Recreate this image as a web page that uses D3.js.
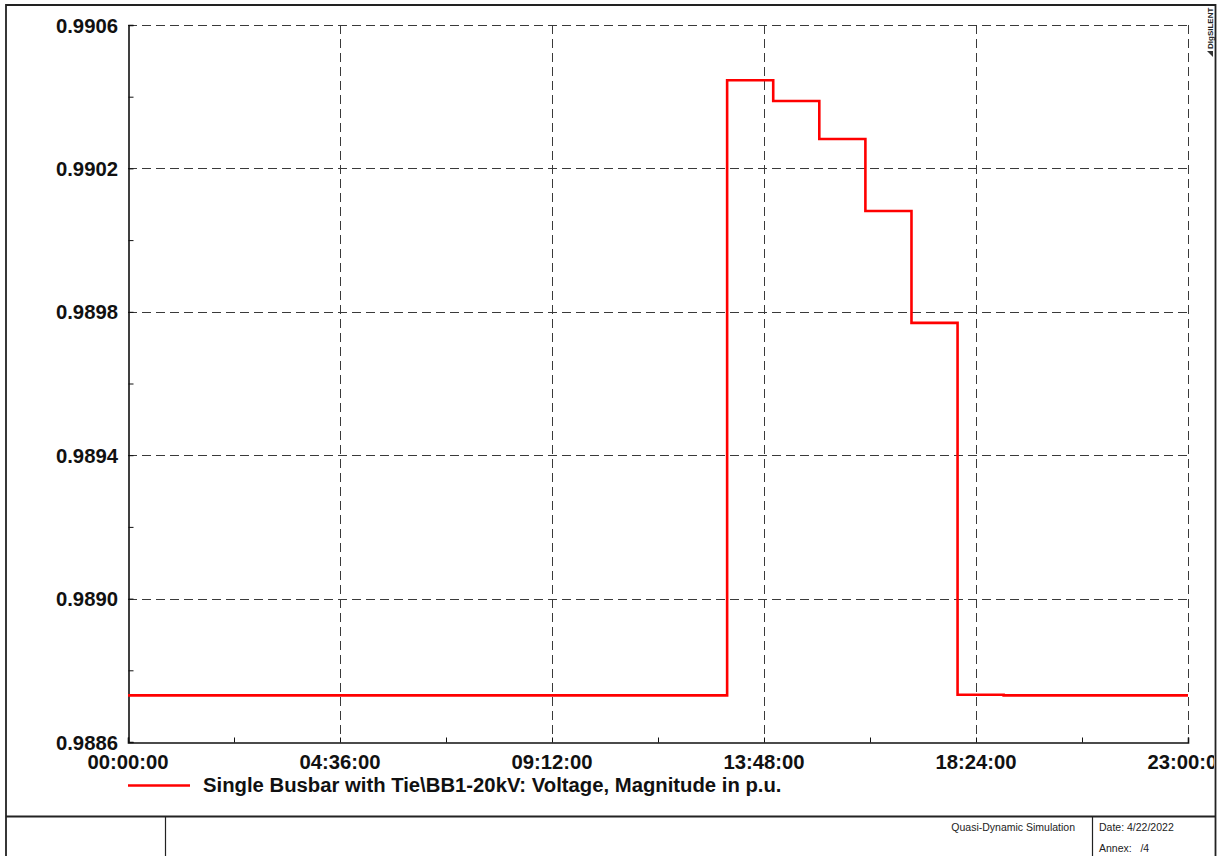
<!DOCTYPE html>
<html>
<head>
<meta charset="utf-8">
<script src="https://cdn.jsdelivr.net/npm/d3@7"></script>
<style>
  html, body { margin: 0; padding: 0; background: #fff; }
  svg { display: block; font-family: "Liberation Sans", Arial, sans-serif; }
</style>
</head>
<body>
<svg id="chart" width="1220" height="856"></svg>
<script>
// Hourly quasi-dynamic results: busbar voltage magnitude (p.u.), step-held per hour
const hours = [0, 1, 2, 3, 4, 5, 6, 7, 8, 9, 10, 11, 12, 13, 14, 15, 16, 17, 18, 19, 20, 21, 22, 23];
const voltage = [
  0.98873, 0.98873, 0.98873, 0.98873, 0.98873, 0.98873, 0.98873, 0.98873,
  0.98873, 0.98873, 0.98873, 0.98873, 0.98873, 0.990446, 0.990388, 0.990282,
  0.990081, 0.989769, 0.988732, 0.98873, 0.98873, 0.98873, 0.98873, 0.98873
];
const yTicks = [0.9886, 0.9890, 0.9894, 0.9898, 0.9902, 0.9906];
const xTicksMin = [0, 276, 552, 828, 1104, 1380];
const xTickLabels = ["00:00:00", "04:36:00", "09:12:00", "13:48:00", "18:24:00", "23:00:00"];
const legendLabel = "Single Busbar with Tie\\BB1-20kV: Voltage, Magnitude in p.u.";

const svg = d3.select("#chart");
const W = 1220, H = 856;
const plot = { left: 128, right: 1188, top: 25, bottom: 742 };
const labelSize = 20.3;

const x = d3.scaleLinear().domain([0, 1380]).range([plot.left, plot.right]);
const y = d3.scaleLinear().domain([0.9886, 0.9906]).range([plot.bottom, plot.top]);

// clip everything to the page frame
svg.append("defs").append("clipPath").attr("id", "frameClip")
  .append("rect").attr("x", 6).attr("y", 5).attr("width", 1208).attr("height", H);
const g = svg.append("g").attr("clip-path", "url(#frameClip)");

// dashed grid
const gridColor = "#3a3a3a";
g.append("g").selectAll("line").data(yTicks.slice(1)).join("line")
  .attr("x1", plot.left).attr("x2", plot.right)
  .attr("y1", d => Math.round(y(d)) + 0.5).attr("y2", d => Math.round(y(d)) + 0.5)
  .attr("stroke", gridColor).attr("stroke-width", 1).attr("stroke-dasharray", "9,5");
g.append("g").selectAll("line").data(xTicksMin.slice(1)).join("line")
  .attr("x1", d => Math.round(x(d)) + 0.5).attr("x2", d => Math.round(x(d)) + 0.5)
  .attr("y1", plot.top).attr("y2", plot.bottom)
  .attr("stroke", gridColor).attr("stroke-width", 1).attr("stroke-dasharray", "9,5");

// axes (solid left and bottom) with half-step minor ticks
const yAxis = d3.axisRight(y).tickValues(d3.range(0, 11).map(i => 0.9886 + i * 0.0002))
  .tickSize(5).tickFormat("");
const yAx = g.append("g").attr("transform", `translate(${plot.left + 0.5},0)`).call(yAxis);
const xAxis = d3.axisTop(x).tickValues(d3.range(0, 11).map(i => i * 138))
  .tickSize(5).tickFormat("");
const xAx = g.append("g").attr("transform", `translate(0,${plot.bottom + 0.5})`).call(xAxis);
[yAx, xAx].forEach(a => {
  a.select(".domain").attr("stroke", "#111").attr("stroke-width", 1.6);
  a.selectAll(".tick line").attr("stroke", "#111").attr("stroke-width", 1);
});

// tick labels
g.append("g").selectAll("text").data(yTicks).join("text")
  .attr("x", 118).attr("y", d => y(d) + 7.5)
  .attr("text-anchor", "end")
  .attr("font-size", labelSize).attr("font-weight", "bold").attr("fill", "#111")
  .text(d => d.toFixed(4));
g.append("g").selectAll("text").data(xTicksMin).join("text")
  .attr("x", d => x(d)).attr("y", 769)
  .attr("text-anchor", "middle")
  .attr("font-size", labelSize).attr("font-weight", "bold").attr("fill", "#111")
  .text((d, i) => xTickLabels[i]);

// voltage curve (step after)
const pts = hours.map((h, i) => ({ t: h * 60, v: voltage[i] }));
const line = d3.line().x(d => x(d.t)).y(d => y(d.v)).curve(d3.curveStepAfter);
g.append("path").datum(pts)
  .attr("d", line)
  .attr("fill", "none").attr("stroke", "#ff0000").attr("stroke-width", 2.6);

// legend
g.append("line").attr("x1", 128).attr("x2", 190).attr("y1", 785.5).attr("y2", 785.5)
  .attr("stroke", "#ff0000").attr("stroke-width", 2.4);
g.append("text").attr("x", 203).attr("y", 792)
  .attr("font-size", labelSize).attr("font-weight", "bold").attr("fill", "#111")
  .text(legendLabel);

// page frame and footer
const frame = svg.append("g").attr("fill", "none").attr("stroke", "#222").attr("stroke-width", 1.8);
frame.append("path").attr("d", `M6,${H} V5 H1215.5 V${H}`);
frame.append("line").attr("x1", 6).attr("x2", 1215.5).attr("y1", 816.5).attr("y2", 816.5);
frame.append("line").attr("x1", 165.5).attr("x2", 165.5).attr("y1", 816).attr("y2", H).attr("stroke-width", 1.2);
frame.append("line").attr("x1", 1092.5).attr("x2", 1092.5).attr("y1", 816).attr("y2", H).attr("stroke-width", 1.2);

const foot = svg.append("g").attr("font-size", 10.5).attr("fill", "#222");
foot.append("text").attr("x", 1075).attr("y", 831).attr("text-anchor", "end").text("Quasi-Dynamic Simulation");
foot.append("text").attr("x", 1099).attr("y", 831).text("Date: 4/22/2022");
foot.append("text").attr("x", 1099).attr("y", 852).attr("xml:space", "preserve").text("Annex:   /4");

// vendor mark, rotated
const logo = svg.append("g").attr("transform", "translate(1213,57) rotate(-90)");
logo.append("path").attr("d", "M0,0 L6,0 L6,-6 Z").attr("fill", "#333");
logo.append("text").attr("x", 8).attr("y", 0)
  .attr("font-size", 8).attr("font-weight", "bold").attr("fill", "#222")
  .text("DIgSILENT");
</script>
</body>
</html>
